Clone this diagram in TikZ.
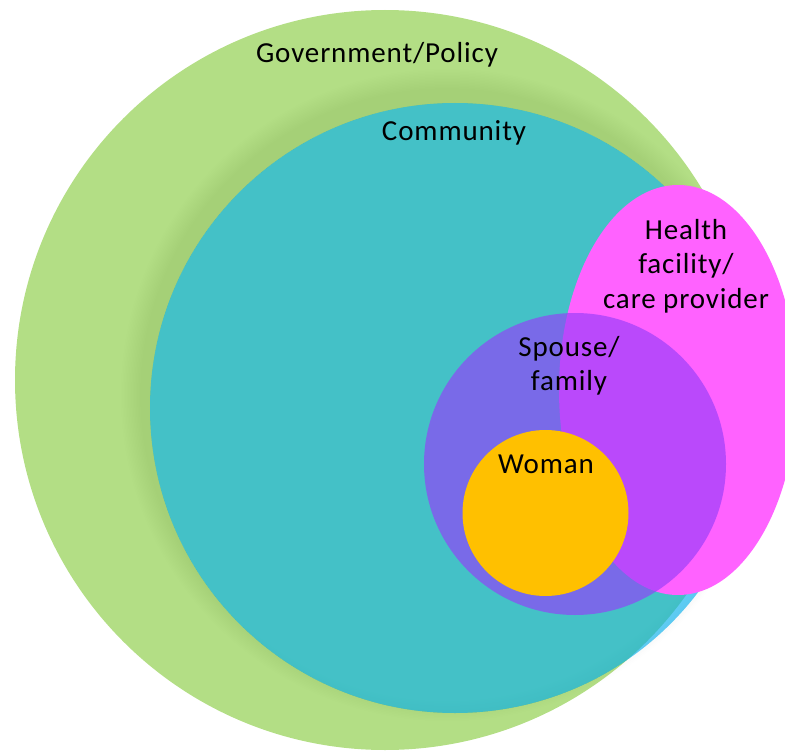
\documentclass[tikz,border=0pt]{standalone}
\usepackage{fontspec}
\setmainfont{Carlito}[LetterSpace=3]
\usetikzlibrary{shapes.geometric}

\definecolor{govgreen}{RGB}{179,222,133}
\definecolor{commblue}{RGB}{0,176,240}
\definecolor{healthpink}{RGB}{255,98,255}
\definecolor{familypurple}{RGB}{150,60,250}
\definecolor{womanorange}{RGB}{255,192,0}

\tikzset{
  disc/.style={circle, inner sep=0pt, draw=none},
  label text/.style={font=\fontsize{29}{34.5}\selectfont, text=black, inner sep=0pt, align=center},
}

\begin{document}
\begin{tikzpicture}[x=1pt, y=-1pt]
  \useasboundingbox (0,0) rectangle (785,752);
  \clip (0,0) rectangle (785,752);

  % outer ring: government / policy
  \node[disc, fill=govgreen, minimum size=740pt] (gov) at (385,380) {};

  % soft shadow around the community disc, mostly towards the upper left
  \foreach \k in {1,...,14}{
    \fill[black!60, opacity=0.008, even odd rule]
      (447,395) circle ({305+1.5*\k}) (455,408) circle (305);
  }

  % community
  \node[disc, fill=commblue, fill opacity=0.62, minimum size=610pt] (comm) at (455,408) {};

  % health facility / care provider
  \node[ellipse, inner sep=0pt, draw=none, fill=healthpink,
        minimum width=238pt, minimum height=410pt] (health) at (678,390) {};

  % spouse / family
  \node[disc, fill=familypurple, fill opacity=0.65, minimum size=302pt] (family) at (575,464) {};

  % woman
  \node[disc, fill=womanorange, minimum size=166pt] (woman) at (545.5,513) {};

  % labels
  \node[label text, anchor=base] (govlabel) at (377,63) {Government/Policy};
  \node[label text, anchor=base] (commlabel) at (454,140) {Community};
  \node[label text] (healthlabel) at (686,266) {Health\\facility/\\care provider};
  \node[label text] (familylabel) at (569,366) {Spouse/\\family};
  \node[label text, anchor=base] (womanlabel) at (546,473) {Woman};
\end{tikzpicture}
\end{document}
